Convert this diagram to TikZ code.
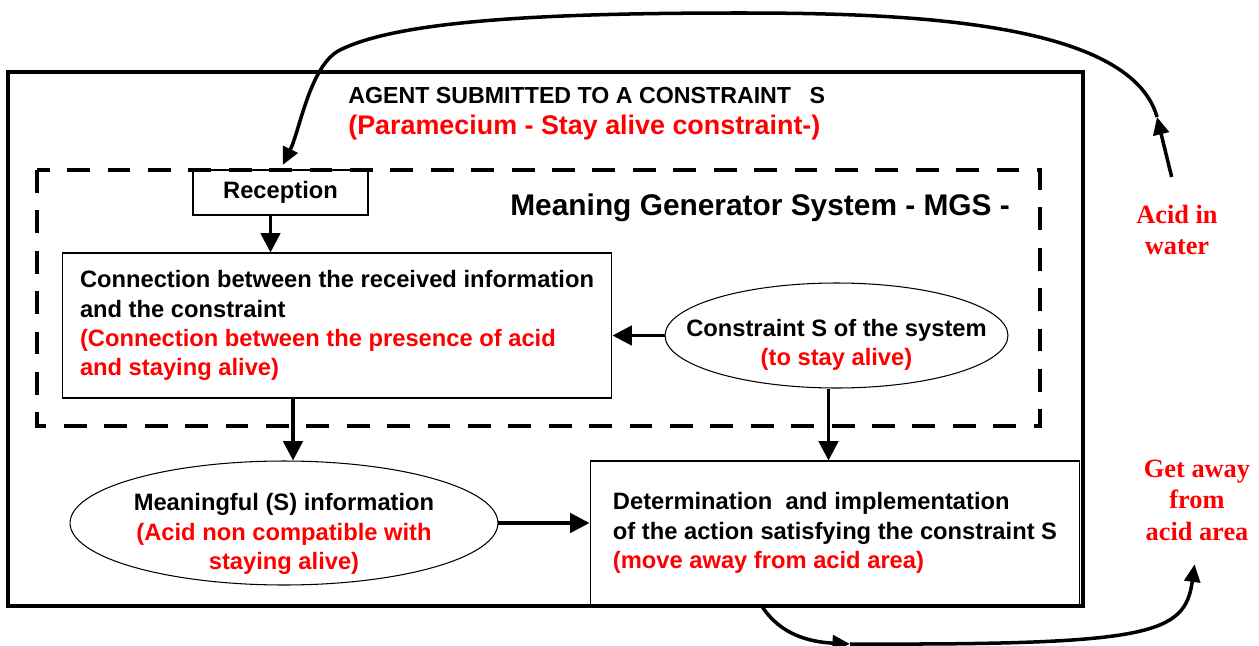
\documentclass[tikz,border=0pt]{standalone}
\usepackage{fontspec}
\setmainfont{Liberation Sans}
\newfontfamily\serifbold{Liberation Serif}
\usepackage{xcolor}
\usetikzlibrary{arrows.meta, positioning, shapes.geometric}

\begin{document}
\begin{tikzpicture}[x=0.02cm, y=-0.02cm,
  txt/.style={font=\fontsize{13.5}{16.6}\selectfont\bfseries, align=center, inner sep=0pt},
  box/.style={draw, line width=0.6pt, txt, align=left},
  oval/.style={draw, ellipse, line width=0.6pt, inner sep=0pt},
  arr/.style={line width=2pt, -{Triangle[length=11pt,width=11pt]}},
  curvearr/.style={line width=2pt, -{Triangle[length=10pt,width=9pt]}},
  lbl/.style={font=\serifbold\fontsize{15}{17.9}\selectfont\bfseries, text=red, align=center}]
\useasboundingbox (0,0) rectangle (1259,646);

% agent
\draw[line width=1.8pt] (8,72) rectangle (1083,606);
\node[txt, font=\fontsize{13.2}{16}\selectfont\bfseries, anchor=west] (agent) at (348,96) {AGENT SUBMITTED TO A CONSTRAINT\hspace{0.8em}S};
\node[txt, font=\fontsize{15.3}{18}\selectfont\bfseries, text=red, anchor=west] (agentred) at (348,128) {(Paramecium - Stay alive constraint-)};

% MGS
\draw[line width=2.8pt, dash pattern=on 13pt off 10pt] (37,170) rectangle (1040,426);
\node[txt, font=\fontsize{17}{20}\selectfont\bfseries, anchor=west] (mgs) at (510,208) {Meaning Generator System - MGS -};
\node[draw, line width=0.6pt, txt, minimum width=3.5cm, minimum height=0.9cm] (reception) at (280.5,192.5) {Reception};
\node[box, minimum width=11cm, minimum height=2.9cm] (conn) at (337,325.5) {Connection between the received information\\and the constraint\\\textcolor{red}{(Connection between the presence of acid}\\\textcolor{red}{and staying alive)}};
\node[oval, minimum width=6.86cm, minimum height=2.1cm] (cons) at (836.5,335.5) {};
\node[txt] (constxt) at ([yshift=-0.18cm]cons.center) {Constraint S of the system\\\textcolor{red}{(to stay alive)}};

% outputs
\node[oval, minimum width=8.56cm, minimum height=2.48cm] (meaning) at (284,523) {};
\node[txt] (meaningtxt) at ([yshift=-0.22cm]meaning.center) {Meaningful (S) information\\\textcolor{red}{(Acid non compatible with}\\\textcolor{red}{staying alive)}};
\node[box, minimum width=9.8cm, minimum height=2.88cm] (det) at (835,533) {Determination\ \ and implementation\\of the action satisfying the constraint S\\\textcolor{red}{(move away from acid area)}};

% environment
\node[lbl] (water) at (1177,230) {Acid in\\water};
\node[lbl] (getaway) at (1197,500) {Get away\\from\\acid area};

\draw[arr] ([xshift=-0.2cm]reception.south) -- ([xshift=-0.2cm]reception.south |- conn.north);
\draw[arr] ([xshift=-0.88cm]conn.south) -- ([xshift=-0.88cm]conn.south |- meaning.north);
\draw[arr] (cons.west) -- (cons.west -| conn.east);
\draw[arr] ([xshift=-0.16cm]cons.south) -- ([xshift=-0.16cm]cons.south |- det.north);
\draw[arr] (meaning.east) -- (meaning.east -| det.west);

% loop through the environment
\coordinate (turn) at (1157,117);
\draw[curvearr, shorten <=0.45cm] (water.north) -- (turn);
\draw[curvearr, shorten >=0.1cm] (turn) .. controls (1130,20) and (900,13) .. (740,13)
  .. controls (550,13) and (400,20) .. (340,50)
  .. controls (310,65) and (300,130) .. (reception.north);
\coordinate (dip) at (850,644);
\draw[curvearr] ([xshift=3.44cm]det.south west) .. controls (780,635) and (810,642) .. (dip);
\draw[curvearr, shorten >=0.36cm] (dip) .. controls (1150,645) and (1185,635) .. (getaway.south);
\end{tikzpicture}
\end{document}
